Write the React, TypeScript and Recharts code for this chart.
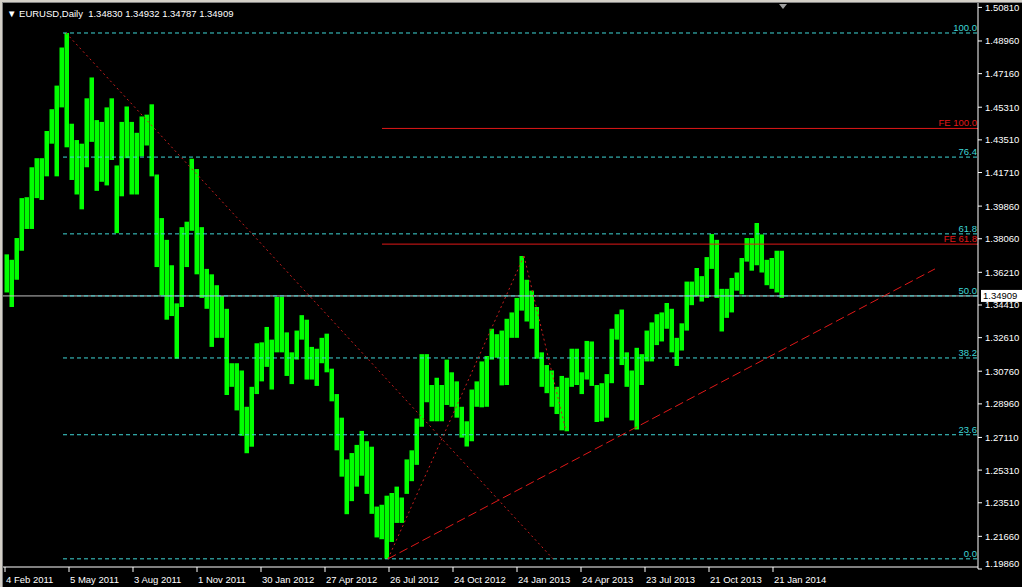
import { ComposedChart, Bar, XAxis, YAxis, ReferenceLine } from "recharts";

// weekly ranges of EURUSD daily bars (Feb 2011 - Jan 2014)
const weekLows = [
  1.3510, 1.3430, 1.3580, 1.3740, 1.3860, 1.3860, 1.4030, 1.4020, 1.4150, 1.4330,
  1.4150, 1.4530, 1.4310, 1.4130, 1.4050, 1.3968, 1.4200, 1.4340, 1.4070, 1.4120,
  1.4100, 1.4240, 1.3837, 1.4040, 1.4250, 1.4050, 1.4050, 1.4260, 1.4320, 1.4150,
  1.3650, 1.3495, 1.3360, 1.3380, 1.3145, 1.3430, 1.3650, 1.3850, 1.3610, 1.3480,
  1.3420, 1.3210, 1.3260, 1.3260, 1.2945, 1.2990, 1.2860, 1.2720, 1.2624, 1.2660,
  1.2950, 1.3020, 1.3100, 1.2975, 1.3180, 1.3180, 1.3050, 1.3005, 1.3140, 1.3250,
  1.3030, 1.3030, 1.2995, 1.3120, 1.3070, 1.2910, 1.2640, 1.2495, 1.2288, 1.2360,
  1.2440, 1.2500, 1.2400, 1.2290, 1.2160, 1.2150, 1.2042, 1.2135, 1.2240, 1.2240,
  1.2400, 1.2470, 1.2560, 1.2770, 1.2905, 1.2800, 1.2800, 1.2800, 1.2890, 1.2880,
  1.2820, 1.2710, 1.2661, 1.2690, 1.2880, 1.2877, 1.2880, 1.3140, 1.3150, 1.2998,
  1.3000, 1.3260, 1.3260, 1.3410, 1.3350, 1.3310, 1.3145, 1.2990, 1.2955, 1.2880,
  1.2840, 1.2750, 1.2745, 1.2990, 1.3000, 1.2950, 1.3030, 1.2995, 1.2796, 1.2800,
  1.2820, 1.3010, 1.3250, 1.3110, 1.2990, 1.2805, 1.2755, 1.3000, 1.3130, 1.3130,
  1.3220, 1.3240, 1.3310, 1.3180, 1.3105, 1.3190, 1.3300, 1.3440, 1.3490, 1.3460,
  1.3480, 1.3640, 1.3480, 1.3295, 1.3370, 1.3400, 1.3520, 1.3500, 1.3680, 1.3630,
  1.3660, 1.3620, 1.3550, 1.3530, 1.3510, 1.3480,
];
const weekHighs = [
  1.3720, 1.3690, 1.3810, 1.4030, 1.4035, 1.4200, 1.4250, 1.4250, 1.4400, 1.4520,
  1.4650, 1.4860, 1.4940, 1.4440, 1.4350, 1.4330, 1.4580, 1.4695, 1.4460, 1.4450,
  1.4530, 1.4580, 1.4210, 1.4450, 1.4535, 1.4450, 1.4390, 1.4480, 1.4490, 1.4547,
  1.4160, 1.3920, 1.3800, 1.3660, 1.3450, 1.3870, 1.3900, 1.4247, 1.4190, 1.3870,
  1.3640, 1.3610, 1.3550, 1.3490, 1.3420, 1.3120, 1.3120, 1.3080, 1.2880, 1.2990,
  1.3230, 1.3235, 1.3320, 1.3250, 1.3485, 1.3486, 1.3290, 1.3180, 1.3300, 1.3385,
  1.3360, 1.3210, 1.3200, 1.3260, 1.3283, 1.3090, 1.2950, 1.2820, 1.2590, 1.2625,
  1.2670, 1.2747, 1.2690, 1.2660, 1.2330, 1.2340, 1.2390, 1.2405, 1.2440, 1.2380,
  1.2590, 1.2640, 1.2815, 1.3170, 1.3170, 1.3000, 1.3040, 1.3000, 1.3140, 1.3070,
  1.3020, 1.2880, 1.2800, 1.2975, 1.3020, 1.3130, 1.3160, 1.3310, 1.3280, 1.3300,
  1.3365, 1.3400, 1.3480, 1.3711, 1.3580, 1.3520, 1.3430, 1.3180, 1.3110, 1.3080,
  1.2990, 1.3050, 1.3040, 1.3200, 1.3200, 1.3070, 1.3243, 1.3240, 1.3000, 1.3010,
  1.3060, 1.3310, 1.3390, 1.3416, 1.3180, 1.3080, 1.3205, 1.3170, 1.3300, 1.3345,
  1.3390, 1.3400, 1.3452, 1.3420, 1.3260, 1.3340, 1.3570, 1.3570, 1.3645, 1.3600,
  1.3705, 1.3832, 1.3800, 1.3530, 1.3530, 1.3590, 1.3620, 1.3700, 1.3810, 1.3810,
  1.3893, 1.3830, 1.3690, 1.3700, 1.3740, 1.3740,
];
const barsPerWeek = 5;
const firstBar = 2;

const dateTicks = [0, 64, 128, 192, 256, 320, 384, 448, 512, 576, 640, 704, 768];
const dateLabels = [
  "4 Feb 2011", "5 May 2011", "3 Aug 2011", "1 Nov 2011", "30 Jan 2012", "27 Apr 2012",
  "26 Jul 2012", "24 Oct 2012", "24 Jan 2013", "24 Apr 2013", "23 Jul 2013", "21 Oct 2013",
  "21 Jan 2014",
];
const priceTicks = [
  1.5081, 1.4896, 1.4716, 1.4531, 1.4351, 1.4171, 1.3986, 1.3806, 1.3621, 1.3441,
  1.3261, 1.3076, 1.2896, 1.2711, 1.2531, 1.2351, 1.2166, 1.1986,
];

// fibonacci retracement (May 2011 high -> Jul 2012 low)
const fibHigh = 1.494;
const fibLow = 1.2042;
const fibLevels = [100.0, 76.4, 61.8, 50.0, 38.2, 23.6, 0.0];
const fibFrom = 58;
const fibDiagonal = [[61, 1.494], [548, 1.2042]];

// fibonacci expansion A-B-C
const feA = 1.2042;
const feB = 1.3711;
const feC = 1.2745;
const feLevels = [100.0, 61.8];
const feFrom = 377;
const feLegs = [[383, 1.2042], [519, 1.3711], [561, 1.2745]];

const trendLine = [[383, 1.2042], [930, 1.364]];

const lastPrice = 1.34909;
const ohlc = ["1.34830", "1.34932", "1.34787", "1.34909"];

const xMin = -2;
const xMax = 973;
const yMin = 1.1986;
const yMax = 1.51053;
const axisPrice = 1.1997;

const FONT = "'Liberation Sans', Arial, sans-serif";
const FIB = "#3fd6d6";
const RED = "#e01818";

const priceBars = weekLows.map((lo, k) => ({
  idx: firstBar + k * barsPerWeek,
  range: [lo, weekHighs[k]],
}));

const DateTick = (props: any) => {
  const { x, payload } = props;
  const label = dateLabels[dateTicks.indexOf(payload.value)];
  return (
    <g>
      <line x1={x} x2={x} y1={567} y2={572} stroke="#fff" />
      <text x={x + 1} y={583} fill="#fff" fontSize={9.5} fontFamily={FONT} textAnchor="start">
        {label}
      </text>
    </g>
  );
};

const PriceTick = (props: any) => {
  const { x, y, payload } = props;
  return (
    <text x={x} y={Math.min(y, 563)} dy={3.5} fill="#fff" fontSize={9.5} fontFamily={FONT} textAnchor="start">
      {payload.value.toFixed(5)}
    </text>
  );
};

const levelLabel = (text: string, color: string) => (props: any) => {
  const vb = props.viewBox;
  return (
    <text x={vb.x + vb.width - 1} y={vb.y - 2} fill={color} fontSize={9.5} fontFamily={FONT} textAnchor="end">
      {text}
    </text>
  );
};

const priceLabel = (props: any) => {
  const vb = props.viewBox;
  const x = vb.x + vb.width + 3;
  return (
    <g>
      <rect x={x} y={vb.y - 6} width={41} height={12} fill="#fff" />
      <text x={x + 2} y={vb.y + 3.5} fill="#000" fontSize={9.5} fontFamily={FONT}>
        {lastPrice.toFixed(5)}
      </text>
    </g>
  );
};

const App = () => (
  <div style={{ position: "fixed", left: 0, top: 0, width: 1022, height: 587, background: "#000", overflow: "hidden" }}>
    <div style={{ position: "absolute", left: 0, top: 0, width: 1022, height: 2, background: "#d4d0c8" }} />
    <div style={{ position: "absolute", left: 0, top: 0, width: 2, height: 587, background: "#d4d0c8" }} />
    <div style={{ position: "absolute", left: 2, top: 2, width: 1020, height: 1, background: "#808080" }} />
    <div style={{ position: "absolute", left: 2, top: 2, width: 1, height: 585, background: "#808080" }} />
    <ComposedChart
      width={1022}
      height={587}
      data={priceBars}
      margin={{ top: 3, right: 0, bottom: 0, left: 3 }}
      style={{ position: "absolute", left: 0, top: 0 }}
    >
      <XAxis
        dataKey="idx"
        type="number"
        domain={[xMin, xMax]}
        allowDataOverflow
        ticks={dateTicks}
        tick={<DateTick />}
        axisLine={false}
        tickLine={false}
        height={18}
        interval={0}
      />
      <YAxis
        orientation="right"
        type="number"
        domain={[yMin, yMax]}
        allowDataOverflow
        ticks={priceTicks}
        tick={<PriceTick />}
        width={44}
        axisLine={{ stroke: "#fff" }}
        tickLine={{ stroke: "#fff" }}
        tickSize={4}
        tickMargin={3}
        interval={0}
      />
      <ReferenceLine y={lastPrice} stroke="#c0c0c0" label={priceLabel} />
      {fibLevels.map((lv) => (
        <ReferenceLine
          key={"fib" + lv}
          segment={[
            { x: fibFrom, y: fibLow + (lv / 100) * (fibHigh - fibLow) },
            { x: xMax, y: fibLow + (lv / 100) * (fibHigh - fibLow) },
          ]}
          stroke={FIB}
          strokeDasharray="4 3"
          label={levelLabel(lv.toFixed(1), FIB)}
        />
      ))}
      {feLevels.map((lv) => (
        <ReferenceLine
          key={"fe" + lv}
          segment={[
            { x: feFrom, y: feC + (lv / 100) * (feB - feA) },
            { x: xMax, y: feC + (lv / 100) * (feB - feA) },
          ]}
          stroke={RED}
          label={levelLabel("FE " + lv.toFixed(1), RED)}
        />
      ))}
      <ReferenceLine
        segment={[{ x: fibDiagonal[0][0], y: fibDiagonal[0][1] }, { x: fibDiagonal[1][0], y: fibDiagonal[1][1] }]}
        stroke="#c81e1e"
        strokeDasharray="2 3"
      />
      <ReferenceLine
        segment={[{ x: feLegs[0][0], y: feLegs[0][1] }, { x: feLegs[1][0], y: feLegs[1][1] }]}
        stroke="#c81e1e"
        strokeDasharray="2 3"
      />
      <ReferenceLine
        segment={[{ x: feLegs[1][0], y: feLegs[1][1] }, { x: feLegs[2][0], y: feLegs[2][1] }]}
        stroke="#c81e1e"
        strokeDasharray="2 3"
      />
      <ReferenceLine
        segment={[{ x: trendLine[0][0], y: trendLine[0][1] }, { x: trendLine[1][0], y: trendLine[1][1] }]}
        stroke={RED}
        strokeDasharray="9 4"
      />
      <ReferenceLine y={axisPrice} stroke="#fff" />
      <Bar dataKey="range" fill="#00ff00" barSize={6} isAnimationActive={false} />
    </ComposedChart>
    <div
      style={{
        position: "absolute",
        left: 7,
        top: 8,
        color: "#fff",
        fontFamily: FONT,
        fontSize: 9.5,
        whiteSpace: "pre",
        lineHeight: "12px",
      }}
    >
      {"\u25BC EURUSD,Daily  " + ohlc.join(" ")}
    </div>
    <div
      style={{
        position: "absolute",
        left: 779,
        top: 4,
        width: 0,
        height: 0,
        borderLeft: "4px solid transparent",
        borderRight: "4px solid transparent",
        borderTop: "5px solid #a0a0a0",
      }}
    />
  </div>
);

export default App;
